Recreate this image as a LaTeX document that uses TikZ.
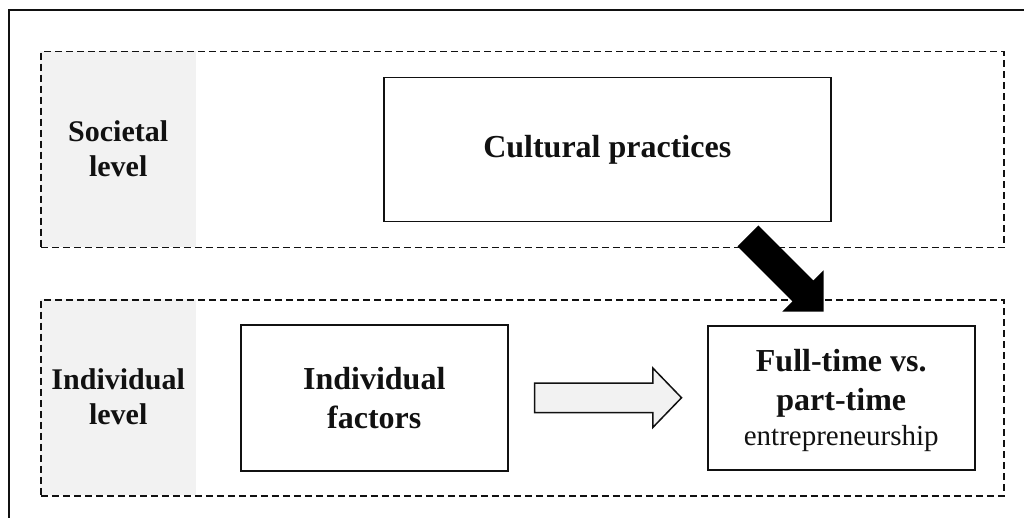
\documentclass[tikz,border=0pt]{standalone}
\usepackage{fontspec}
\setmainfont{Liberation Serif}
\usetikzlibrary{shapes.arrows,calc}

\definecolor{panelgray}{HTML}{F2F2F2}
\definecolor{ink}{HTML}{111111}

\tikzset{
  levelbox/.style={draw=ink, line width=1.5pt, dash pattern=on 7pt off 4pt,
    inner sep=0pt},
  levelfill/.style={fill=panelgray, inner sep=0pt, minimum width=156pt,
    minimum height=196pt},
  levellabel/.style={font=\bfseries\fontsize{30}{35}\selectfont, align=center,
    text=ink},
  conceptbox/.style={draw=ink, line width=1.5pt, fill=white, inner sep=0pt,
    align=center, text=ink, font=\bfseries\fontsize{32}{39}\selectfont},
  hollowarrow/.style={single arrow, draw=ink, line width=1.5pt, fill=panelgray,
    inner sep=14pt, minimum height=147pt, single arrow head extend=15pt,
    single arrow tip angle=92},
  solidarrow/.style={single arrow, fill=black, inner sep=14.5pt,
    minimum height=107pt, single arrow head extend=14.5pt,
    single arrow tip angle=90}
}

\begin{document}
\begin{tikzpicture}[x=1pt, y=-1pt]
  \useasboundingbox (0,0) rectangle (1024,518);

  % outer frame: top and left rules only
  \draw[ink, line width=2pt] (9,518) -- (9,10) -- (1024,10);

  % societal level band
  \node[levelfill, anchor=north west] (socfill) at (40,51) {};
  \node[levelbox, minimum width=963pt, minimum height=196pt, anchor=north west]
    (soc) at (40,51) {};
  \node[levellabel] (soclab) at (socfill.center) {Societal\\level};

  % individual level band
  \node[levelfill, anchor=north west] (indfill) at (40,299) {};
  \node[levelbox, minimum width=963pt, minimum height=196pt, anchor=north west]
    (ind) at (40,299) {};
  \node[levellabel] (indlab) at (indfill.center) {Individual\\level};

  % concept boxes
  \node[conceptbox, minimum width=447pt, minimum height=144pt, anchor=north west]
    (cult) at (383,77) {Cultural practices};
  \node[conceptbox, minimum width=267pt, minimum height=146pt, anchor=north west]
    (indf) at (240,324) {Individual\\factors};
  \node[conceptbox, minimum width=267pt, minimum height=144pt, anchor=north west]
    (full) at (707,325) {};
  \node[align=center, text=ink, font=\bfseries\fontsize{32}{39}\selectfont,
    inner sep=0pt] (fulllab) at ($(full.center)+(0,3)$)
    {Full-time vs.\\part-time\\[-4pt]{\mdseries\fontsize{29}{34}\selectfont entrepreneurship}};

  % individual factors -> outcome
  \coordinate (hs) at ($(indf.east)+(25.25,0)$);
  \node[hollowarrow, anchor=tail] (harrow) at (hs) {};

  % cultural practices -> outcome
  \coordinate (ct) at ($(full.north west)+(116.75,-13.25)$);
  \node[solidarrow, rotate=-45, anchor=tip] (carrow) at (ct) {};
\end{tikzpicture}
\end{document}
